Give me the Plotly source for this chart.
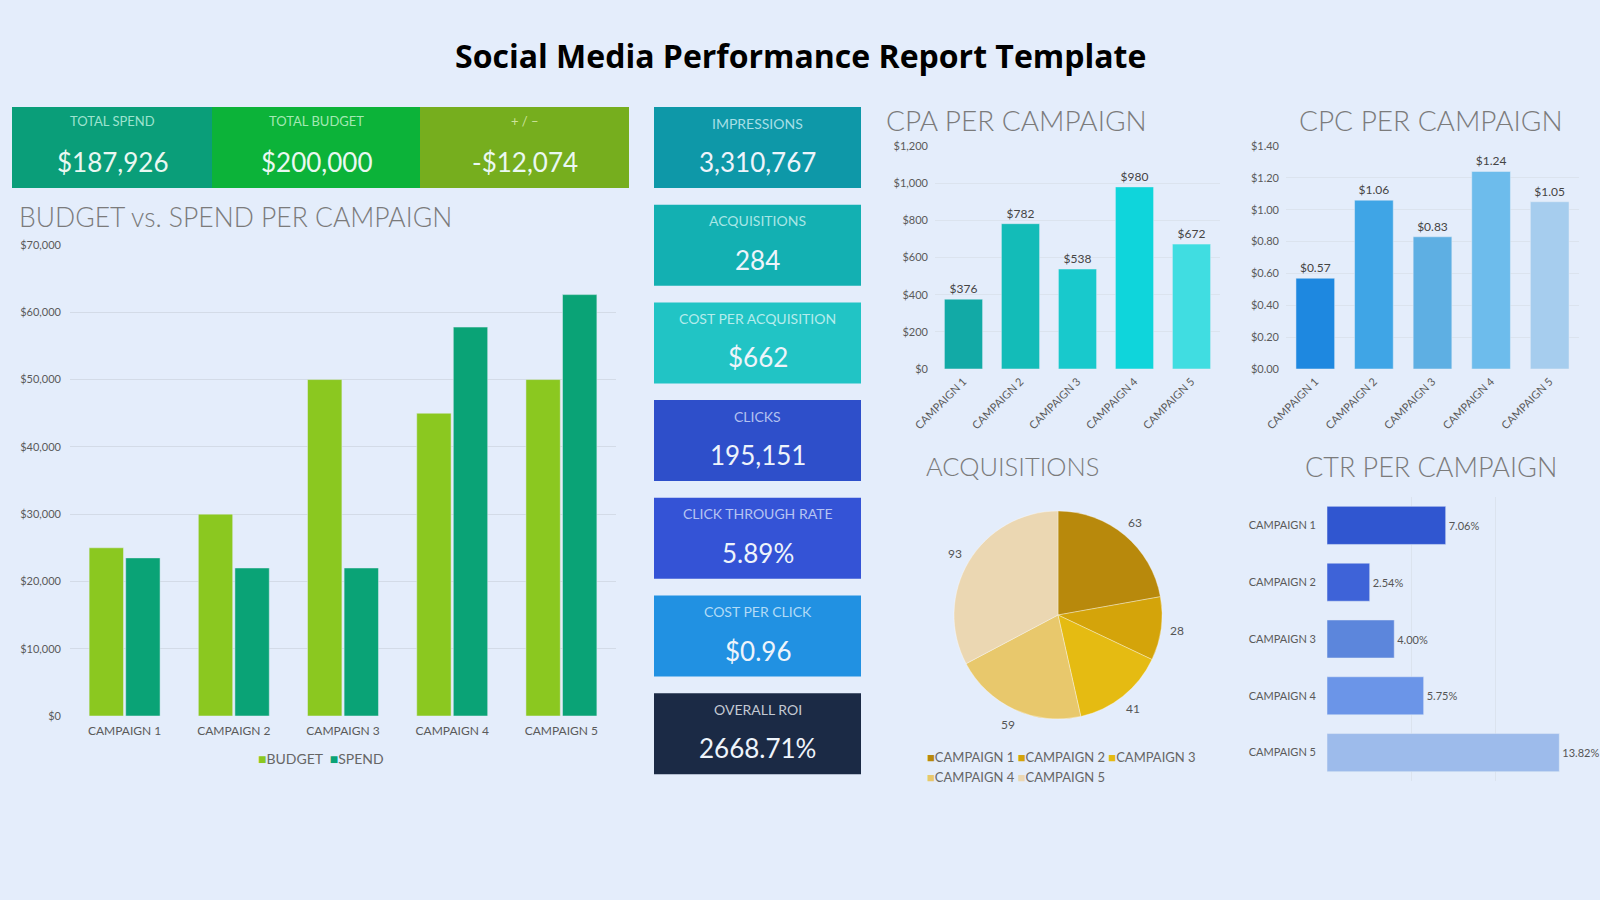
import math
import plotly.graph_objects as go

# ---------------- data ----------------
campaigns = ["CAMPAIGN 1", "CAMPAIGN 2", "CAMPAIGN 3", "CAMPAIGN 4", "CAMPAIGN 5"]
budget = [25000, 30000, 50000, 45000, 50000]
spend = [23500, 22000, 22000, 57800, 62626]
cpa = [376, 782, 538, 980, 672]
cpc = [0.57, 1.06, 0.83, 1.24, 1.05]
acquisitions = [63, 28, 41, 59, 93]
ctr = [7.06, 2.54, 4.00, 5.75, 13.82]

banner_labels = ["TOTAL SPEND", "TOTAL BUDGET", "+ / –"]
banner_values = ["$187,926", "$200,000", "-$12,074"]
kpi_labels = ["IMPRESSIONS", "ACQUISITIONS", "COST PER ACQUISITION", "CLICKS",
              "CLICK THROUGH RATE", "COST PER CLICK", "OVERALL ROI"]
kpi_values = ["3,310,767", "284", "$662", "195,151", "5.89%", "$0.96", "2668.71%"]

budget_ticks = [0, 10000, 20000, 30000, 40000, 50000, 60000, 70000]
cpa_ticks = [0, 200, 400, 600, 800, 1000, 1200]
cpc_ticks = [0, 0.2, 0.4, 0.6, 0.8, 1.0, 1.2, 1.4]

# ---------------- styles ----------------
BG = "#e4edfb"
FONT = "Lato"
GRAY = "#7b7b7b"
TICK = "#5a5a5a"
GRID = "#d3dbe7"
banner_colors = ["#0a9e79", "#0cb339", "#76ae1e"]
banner_label_colors = ["#9ee3cf", "#a3e9b3", "#cde39c"]
kpi_colors = ["#0e98a8", "#13b0b2", "#21c4c5", "#2e4fca", "#3453d6", "#2191e2", "#1b2a45"]
kpi_label_colors = ["#a6dfe6", "#a9e6e6", "#b5ecec", "#b3c1f0", "#b6c4f2", "#b2dbf6", "#c3c9d3"]
budget_color = "#8bc820"
spend_color = "#0aa376"
cpa_colors = ["#12aaa6", "#13bcb8", "#18c9cc", "#0fd5db", "#40dde1"]
cpc_colors = ["#1e88e0", "#3fa5e6", "#5eafe3", "#6dbcec", "#a6cdee"]
pie_colors = ["#b8890c", "#d4a40a", "#e5bb12", "#e8c86c", "#ebd7b2"]
ctr_colors = ["#3056d0", "#3e63d8", "#5c86dc", "#6b95e8", "#9dbbeb"]

W, H = 1600, 900


def px(x):
    return x / W


def py(y):
    return 1 - y / H


fig = go.Figure()

# Budget vs spend
fig.add_trace(go.Bar(x=campaigns, y=budget, name="BUDGET", marker_color=budget_color,
                     xaxis="x", yaxis="y", showlegend=False))
fig.add_trace(go.Bar(x=campaigns, y=spend, name="SPEND", marker_color=spend_color,
                     xaxis="x", yaxis="y", showlegend=False))

# CPA
fig.add_trace(go.Bar(x=campaigns, y=cpa, marker_color=cpa_colors, width=0.67,
                     text=[f"${v:,.0f}" for v in cpa], textposition="outside",
                     textfont=dict(size=12, color="#444", family=FONT),
                     cliponaxis=False, showlegend=False, xaxis="x2", yaxis="y2"))
# CPC
fig.add_trace(go.Bar(x=campaigns, y=cpc, marker_color=cpc_colors, width=0.66,
                     text=[f"${v:.2f}" for v in cpc], textposition="outside",
                     textfont=dict(size=12, color="#444", family=FONT),
                     cliponaxis=False, showlegend=False, xaxis="x3", yaxis="y3"))
# CTR
fig.add_trace(go.Bar(y=campaigns, x=ctr, orientation="h", marker_color=ctr_colors, width=0.67,
                     text=[f"{v:.2f}%" for v in ctr], textposition="outside",
                     constraintext="none",
                     textfont=dict(size=11, color="#555", family=FONT),
                     cliponaxis=False, showlegend=False, xaxis="x4", yaxis="y4"))

# Pie
pie_cx, pie_cy, pie_r = 1058, 615, 104
fig.add_trace(go.Pie(labels=campaigns, values=acquisitions, sort=False, direction="clockwise",
                     rotation=0, marker=dict(colors=pie_colors, line=dict(color="rgba(255,255,255,0.35)", width=1)),
                     textinfo="none", showlegend=False, hoverinfo="label+value",
                     domain=dict(x=[px(pie_cx - pie_r), px(pie_cx + pie_r)],
                                 y=[py(pie_cy + pie_r), py(pie_cy - pie_r)])))

axis_common = dict(showline=False, zeroline=False, ticks="", fixedrange=True, automargin=False)
tickfont = dict(family=FONT, size=11, color=TICK)

fig.update_layout(
    width=W, height=H,
    margin=dict(l=0, r=0, t=0, b=0, pad=0, autoexpand=False),
    paper_bgcolor=BG, plot_bgcolor="rgba(0,0,0,0)",
    font=dict(family=FONT, color=TICK),
    barmode="group", bargap=0.33, bargroupgap=0.06,
    xaxis=dict(domain=[px(70), px(616)], anchor="y", tickfont=dict(family=FONT, size=12, color=TICK),
               showgrid=False, ticklabelstandoff=6, **axis_common),
    yaxis=dict(domain=[py(716), py(245)], anchor="x", range=[0, 70000], tickvals=budget_ticks,
               ticktext=[f"${v:,.0f}" for v in budget_ticks], tickfont=tickfont,
               gridcolor=GRID, gridwidth=1, ticklabelstandoff=8, **axis_common),
    xaxis2=dict(domain=[px(935), px(1220)], anchor="y2", tickangle=-45,
                tickfont=dict(family=FONT, size=11, color=TICK), showgrid=False, ticklabelstandoff=3,
                **axis_common),
    yaxis2=dict(domain=[py(369), py(146)], anchor="x2", range=[0, 1200], tickvals=cpa_ticks,
                ticktext=[f"${v:,.0f}" for v in cpa_ticks], tickfont=tickfont,
                gridcolor="#dbe3ee", ticklabelstandoff=6, **axis_common),
    xaxis3=dict(domain=[px(1286), px(1579)], anchor="y3", tickangle=-45,
                tickfont=dict(family=FONT, size=11, color=TICK), showgrid=False, ticklabelstandoff=3,
                **axis_common),
    yaxis3=dict(domain=[py(369), py(146)], anchor="x3", range=[0, 1.4], tickvals=cpc_ticks,
                ticktext=[f"${v:.2f}" for v in cpc_ticks], tickfont=tickfont,
                gridcolor="#dbe3ee", ticklabelstandoff=6, **axis_common),
    xaxis4=dict(domain=[px(1327), px(1580)], anchor="y4", range=[0, 15.05], dtick=5,
                showticklabels=False, gridcolor="#dbe3ee", **axis_common),
    yaxis4=dict(domain=[py(781), py(497)], anchor="x4", autorange="reversed",
                tickfont=dict(family=FONT, size=11, color=TICK), ticklabelstandoff=10,
                showgrid=False, **axis_common),
)

shapes = []
annotations = []

# main title
annotations.append(dict(text="<b>Social Media Performance Report Template</b>", x=0.5, y=py(55),
                        xref="paper", yref="paper", showarrow=False, xanchor="center", yanchor="middle",
                        font=dict(family="Open Sans", size=32, color="#000")))

# banner
banner_edges = [12, 212, 420, 629]
for i, (lab, val) in enumerate(zip(banner_labels, banner_values)):
    x0, x1 = banner_edges[i], banner_edges[i + 1]
    shapes.append(dict(type="rect", xref="paper", yref="paper", x0=px(x0), x1=px(x1),
                       y0=py(188), y1=py(107), fillcolor=banner_colors[i], line=dict(width=0), layer="below"))
    cx = (x0 + x1) / 2
    annotations.append(dict(text=lab, x=px(cx), y=py(121), xref="paper", yref="paper", showarrow=False,
                            xanchor="center", yanchor="middle",
                            font=dict(family=FONT, size=13, color=banner_label_colors[i])))
    annotations.append(dict(text=val, x=px(cx), y=py(162), xref="paper", yref="paper", showarrow=False,
                            xanchor="center", yanchor="middle",
                            font=dict(family=FONT, size=26, color="#eaf8f2")))

# KPI tiles
for i, (lab, val) in enumerate(zip(kpi_labels, kpi_values)):
    top = 107 + i * 97.7
    shapes.append(dict(type="rect", xref="paper", yref="paper", x0=px(654), x1=px(861),
                       y0=py(top + 81), y1=py(top), fillcolor=kpi_colors[i], line=dict(width=0), layer="below"))
    annotations.append(dict(text=lab, x=px(757.5), y=py(top + 16), xref="paper", yref="paper", showarrow=False,
                            xanchor="center", yanchor="middle",
                            font=dict(family=FONT, size=14, color=kpi_label_colors[i])))
    annotations.append(dict(text=val, x=px(757.5), y=py(top + 55), xref="paper", yref="paper", showarrow=False,
                            xanchor="center", yanchor="middle",
                            font=dict(family=FONT, size=26, color="#eef4fb")))

# section titles
titles = [
    ("BUDGET vs. SPEND PER CAMPAIGN", 17, 217, "left", 26.5),
    ("CPA PER CAMPAIGN", 884, 120, "left", 28),
    ("CPC PER CAMPAIGN", 1431, 120, "center", 28),
    ("ACQUISITIONS", 924, 466, "left", 25.5),
    ("CTR PER CAMPAIGN", 1431, 466, "center", 27),
]
for t, x, y, anc, sz in titles:
    annotations.append(dict(text=t, x=px(x), y=py(y), xref="paper", yref="paper", showarrow=False,
                            xanchor=anc, yanchor="middle",
                            font=dict(family=FONT, size=sz, color=GRAY, weight=300)))

# pie labels computed from the data
total = sum(acquisitions)
cum = 0
label_r = 120
for v in acquisitions:
    mid = (cum + v / 2) / total * 2 * math.pi
    cum += v
    lx = pie_cx + label_r * math.sin(mid)
    ly = pie_cy - label_r * math.cos(mid)
    annotations.append(dict(text=str(v), x=px(lx), y=py(ly), xref="paper", yref="paper", showarrow=False,
                            xanchor="center", yanchor="middle",
                            font=dict(family=FONT, size=12, color="#555")))


# legends as coloured-square text entries
def entry(color, name):
    return f"<span style='color:{color}'>■</span>{name}"


row1 = " ".join(entry(pie_colors[i], campaigns[i]) for i in range(3))
row2 = " ".join(entry(pie_colors[i], campaigns[i]) for i in range(3, 5))
annotations.append(dict(text=row1, x=px(925), y=py(757), xref="paper", yref="paper", showarrow=False,
                        xanchor="left", yanchor="middle", font=dict(family=FONT, size=13, color="#666")))
annotations.append(dict(text=row2, x=px(925), y=py(777), xref="paper", yref="paper", showarrow=False,
                        xanchor="left", yanchor="middle", font=dict(family=FONT, size=13, color="#666")))

budget_legend = "  ".join([entry(budget_color, "BUDGET"), entry(spend_color, "SPEND")])
annotations.append(dict(text=budget_legend, x=px(321), y=py(758), xref="paper", yref="paper", showarrow=False,
                        xanchor="center", yanchor="middle", font=dict(family=FONT, size=14, color="#666")))

fig.update_layout(shapes=shapes, annotations=annotations)

fig.write_html("out.html", config={"displayModeBar": False},
               post_script="document.body.style.margin='0';document.body.style.overflow='hidden';")
